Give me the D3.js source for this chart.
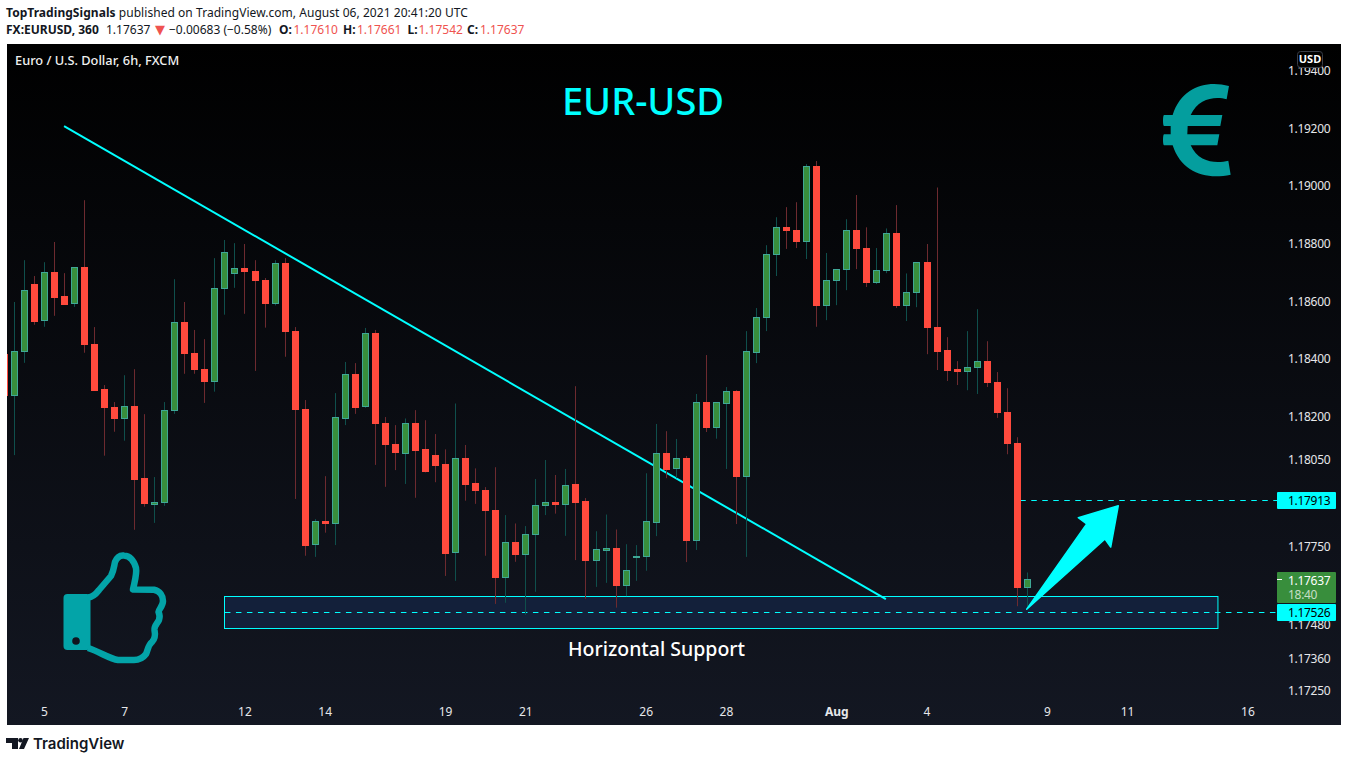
<!DOCTYPE html>
<html><head><meta charset="utf-8">
<script src="https://cdnjs.cloudflare.com/ajax/libs/d3/7.8.5/d3.min.js"></script>
<style>
html,body{margin:0;padding:0;background:#fff;overflow:hidden}
svg{display:block}
text{font-family:"Noto Sans",sans-serif}
</style></head><body>
<svg id="c" width="1348" height="762"></svg>
<script>
const opens=[1.18418,1.18277,1.18426,1.18661,1.18534,1.18702,1.18620,1.18593,1.18719,1.18453,1.18296,1.18234,1.18197,1.18240,1.17987,1.17899,1.17903,1.18223,1.18528,1.18421,1.18365,1.18322,1.18646,1.18697,1.18716,1.18705,1.18674,1.18593,1.18733,1.18497,1.18227,1.17757,1.17839,1.17833,1.18197,1.18349,1.18236,1.18490,1.18178,1.18105,1.18076,1.18181,1.18088,1.18070,1.18036,1.17731,1.18057,1.17970,1.17946,1.17876,1.17643,1.17765,1.17722,1.17792,1.17892,1.17905,1.17901,1.17968,1.17908,1.17702,1.17740,1.17745,1.17615,1.17712,1.17715,1.17837,1.18077,1.18021,1.18057,1.17774,1.18251,1.18163,1.18249,1.18292,1.17996,1.18426,1.18544,1.18763,1.18858,1.18847,1.18808,1.19069,1.18586,1.18673,1.18711,1.18847,1.18785,1.18666,1.18709,1.18837,1.18586,1.18631,1.18736,1.18511,1.18431,1.18366,1.18359,1.18371,1.18393,1.18320,1.18216,1.18109,1.17610];
const closes=[1.18277,1.18428,1.18639,1.18534,1.18702,1.18617,1.18593,1.18719,1.18451,1.18295,1.18232,1.18197,1.18240,1.17986,1.17899,1.17905,1.18223,1.18528,1.18419,1.18364,1.18322,1.18646,1.18771,1.18716,1.18704,1.18673,1.18593,1.18733,1.18496,1.18225,1.17757,1.17838,1.17833,1.18199,1.18348,1.18236,1.18490,1.18177,1.18104,1.18076,1.18181,1.18086,1.18010,1.18034,1.17729,1.18057,1.17968,1.17944,1.17875,1.17643,1.17765,1.17722,1.17793,1.17894,1.17904,1.17899,1.17966,1.17906,1.17702,1.17741,1.17746,1.17615,1.17668,1.17717,1.17838,1.18077,1.18021,1.18057,1.17774,1.18251,1.18163,1.18251,1.18292,1.17996,1.18428,1.18546,1.18764,1.18858,1.18846,1.18808,1.19069,1.18586,1.18674,1.18712,1.18847,1.18783,1.18666,1.18709,1.18837,1.18586,1.18632,1.18736,1.18510,1.18429,1.18363,1.18359,1.18372,1.18393,1.18319,1.18215,1.18107,1.17608,1.17637];
const highs=[1.18484,1.18599,1.18744,1.18689,1.18737,1.18807,1.18699,1.18720,1.18952,1.18512,1.18311,1.18252,1.18345,1.18366,1.18210,1.17992,1.18252,1.18678,1.18599,1.18502,1.18470,1.18751,1.18814,1.18803,1.18800,1.18744,1.18682,1.18744,1.18751,1.18512,1.18259,1.17846,1.17995,1.18283,1.18391,1.18387,1.18509,1.18502,1.18200,1.18172,1.18195,1.18224,1.18189,1.18141,1.18088,1.18247,1.18103,1.18022,1.17957,1.18026,1.17860,1.17831,1.17822,1.17985,1.18051,1.17999,1.18020,1.18307,1.17919,1.17804,1.17862,1.17810,1.17759,1.17756,1.18005,1.18176,1.18151,1.18124,1.18065,1.18280,1.18415,1.18251,1.18304,1.18293,1.18498,1.18578,1.18796,1.18893,1.18928,1.18945,1.19077,1.19088,1.18769,1.18713,1.18886,1.18970,1.18858,1.18786,1.18854,1.18935,1.18698,1.18736,1.18800,1.18996,1.18477,1.18394,1.18498,1.18574,1.18463,1.18356,1.18300,1.18130,1.17661];
const lows=[1.18189,1.18068,1.18388,1.18520,1.18513,1.18551,1.18590,1.18582,1.18423,1.18294,1.18066,1.18149,1.18118,1.17809,1.17889,1.17833,1.17892,1.18211,1.18350,1.18350,1.18249,1.18288,1.18555,1.18648,1.18558,1.18360,1.18510,1.18587,1.18409,1.17916,1.17719,1.17715,1.17799,1.17756,1.18172,1.18211,1.18232,1.18034,1.17958,1.18016,1.17968,1.17920,1.18008,1.17974,1.17649,1.17632,1.17910,1.17899,1.17719,1.17552,1.17556,1.17698,1.17514,1.17594,1.17860,1.17865,1.17788,1.17704,1.17570,1.17611,1.17625,1.17539,1.17579,1.17632,1.17667,1.17787,1.17988,1.17988,1.17697,1.17739,1.18148,1.18125,1.18020,1.17829,1.17715,1.18387,1.18498,1.18689,1.18783,1.18786,1.18748,1.18513,1.18536,1.18588,1.18640,1.18713,1.18651,1.18661,1.18699,1.18578,1.18533,1.18581,1.18418,1.18363,1.18325,1.18311,1.18293,1.18280,1.18304,1.18197,1.18071,1.17544,1.17542];
const priceTicks=[1.194,1.192,1.190,1.188,1.186,1.184,1.182,1.1805,1.1775,1.1748,1.1736,1.1725];
const timeTickIndex=[3,11,23,31,43,51,63,71,82,91,103,111,123];
const timeTickLabels=["5","7","12","14","19","21","26","28","Aug","4","9","11","16"];
const trendIndex=[4.96,86.9];
const trendPrice=[1.19209,1.17569];
const zoneIndex=[20.9,119.95];
const zonePrice=[1.17580,1.17469];
const levelPrices=[1.17913,1.17526];
const levelStartIndex=[100.3,21];
const lastPrice=1.17637;
const countdown="18:40";

const svg=d3.select("#c");
const P={l:7,r:1341,t:44,b:725,axis:1278};
const defs=svg.append("defs");
const g=defs.append("linearGradient").attr("id","bg").attr("x1",0).attr("x2",0).attr("y1",0).attr("y2",1);
g.append("stop").attr("offset",0).attr("stop-color","#000");
g.append("stop").attr("offset",1).attr("stop-color","#131722");
defs.append("clipPath").attr("id","pane").append("rect").attr("x",P.l).attr("y",P.t).attr("width",P.axis-P.l).attr("height",P.b-P.t);

// index -1 is the clipped candle at the left edge
const x=d3.scaleLinear().domain([0,101]).range([14.3,1027.3]);
const y=d3.scaleLinear().domain([1.194,1.1725]).range([71,691]);
const candles=opens.map((o,k)=>({i:k-1,o,c:closes[k],h:highs[k],l:lows[k]}));
const CY="#00ffff";
const TICKFONT='Roboto,sans-serif';

// header
const head=svg.append("g").attr("font-size",12).attr("fill","#131722");
const l1=head.append("text").attr("x",6).attr("y",17).attr("letter-spacing",".05");
l1.append("tspan").attr("font-weight",700).text("TopTradingSignals");
l1.append("tspan").text(" published on TradingView.com, August 06, 2021 20:41:20 UTC");
const l2=head.append("text").attr("y",34);
const seg=(t,px,b,c)=>l2.append("tspan").attr("x",px).attr("font-weight",b?700:400).attr("fill",c||"#131722").text(t);
seg("FX:EURUSD, 360",6,1); seg("1.17637",106);
seg("▼",155,0,"#ef5350").style("font-family","'DejaVu Sans'").attr("font-size",13);
seg("−0.00683 (−0.58%)",169);
seg("O:",279,1); seg("1.17610",293.5,0,"#ef5350"); seg("H:",343,1); seg("1.17661",357,0,"#ef5350");
seg("L:",407.5,1); seg("1.17542",418.5,0,"#ef5350"); seg("C:",467,1); seg("1.17637",480,0,"#ef5350");

// pane
svg.append("rect").attr("x",P.l).attr("y",P.t).attr("width",P.r-P.l).attr("height",P.b-P.t).attr("fill","url(#bg)");

const plot=svg.append("g").attr("clip-path","url(#pane)");
plot.append("rect")
  .attr("x",Math.round(x(zoneIndex[0]))+.5).attr("y",Math.round(y(zonePrice[0]))+.5)
  .attr("width",x(zoneIndex[1])-x(zoneIndex[0])).attr("height",y(zonePrice[1])-y(zonePrice[0]))
  .attr("fill","#13203a").attr("stroke",CY).attr("stroke-width",1);
plot.append("line").attr("x1",x(trendIndex[0])).attr("y1",y(trendPrice[0])).attr("x2",x(trendIndex[1])).attr("y2",y(trendPrice[1]))
  .attr("stroke",CY).attr("stroke-width",2);
levelPrices.forEach((p,k)=>{
  plot.append("line").attr("x1",x(levelStartIndex[k])).attr("x2",P.axis).attr("y1",Math.ceil(y(p))+.5).attr("y2",Math.ceil(y(p))+.5)
    .attr("stroke",CY).attr("stroke-width",1).attr("stroke-dasharray","5.5 5.5");
});

// candles
const cg=plot.append("g").selectAll("g").data(candles).join("g");
const px=d=>Math.floor(x(d.i))+.5;
cg.append("line").attr("x1",px).attr("x2",px).attr("y1",d=>y(d.h)).attr("y2",d=>y(d.l))
  .attr("stroke",d=>d.c>=d.o?"#0f4f4c":"#6d2a2f").attr("stroke-width",1);
cg.append("rect").attr("x",d=>px(d)-3)
  .attr("y",d=>Math.round(y(Math.max(d.o,d.c)))+.5).attr("width",6)
  .attr("height",d=>Math.max(1,Math.round(Math.abs(y(d.o)-y(d.c)))))
  .attr("fill",d=>d.c>=d.o?"#388e3c":"#ff4a3d").attr("stroke",d=>d.c>=d.o?"#3fa796":"#ff4a3d").attr("stroke-width",1);

// price axis
const ya=svg.append("g").attr("transform",`translate(${P.axis},0)`)
  .call(d3.axisRight(y).tickValues(priceTicks).tickFormat(d3.format(".5f")).tickSize(0).tickPadding(10).offset(0));
ya.select(".domain").remove();
ya.selectAll("text").attr("fill","#e6e7ea").attr("font-size",12).attr("font-family",TICKFONT).attr("letter-spacing","-.3");

// time axis
const xa=svg.append("g").attr("transform","translate(0,707)")
  .call(d3.axisBottom(x).tickValues(timeTickIndex).tickFormat((d,k)=>timeTickLabels[k]).tickSize(0).tickPadding(0).offset(0));
xa.select(".domain").remove();
xa.selectAll("text").attr("fill","#e6e7ea").attr("font-size",12).attr("font-family",TICKFONT);
xa.selectAll("text").filter((d,k)=>timeTickLabels[k]==="Aug").attr("font-weight",700);

// price labels
const lab=(t,ly,fill)=>svg.append("text").attr("x",1288).attr("y",ly).attr("font-size",12).attr("font-family",TICKFONT).attr("letter-spacing","-.3").attr("fill",fill).text(t);
svg.append("rect").attr("x",1277).attr("y",572).attr("width",59).attr("height",31).attr("rx",1).attr("fill","#388e3c");
svg.append("line").attr("x1",1277).attr("x2",1282).attr("y1",Math.round(y(lastPrice))+.5).attr("y2",Math.round(y(lastPrice))+.5).attr("stroke","#fff");
lab(d3.format(".5f")(lastPrice),585,"#fff");
lab(countdown,599,"#c6dfc7");
levelPrices.forEach(p=>{
  const c=Math.ceil(y(p));
  svg.append("rect").attr("x",1277).attr("y",c-8).attr("width",59).attr("height",17).attr("rx",1).attr("fill",CY);
  lab(d3.format(".5f")(p),c+4.5,"#000");
});

// annotations
svg.append("path").attr("d","M1026.7 609.3L1086.7 524L1078.3 517.7L1118.3 505.7L1110.7 547L1105 539Z")
  .attr("fill",CY).attr("stroke",CY).attr("stroke-width",1.5).attr("stroke-linejoin","round");
svg.append("text").attr("x",643).attr("y",115).attr("text-anchor","middle").attr("font-size",38).attr("font-weight",500).attr("fill",CY).text("EUR-USD");
svg.append("text").attr("x",656.5).attr("y",656).attr("text-anchor","middle").attr("font-size",19.5).attr("font-weight",500).attr("fill","#fff").text("Horizontal Support");
svg.append("text").attr("x",15).attr("y",65).attr("font-size",12.8).attr("font-weight",500).attr("fill","#f0f0f0").text("Euro / U.S. Dollar, 6h, FXCM");
// USD badge
svg.append("rect").attr("x",1297.5).attr("y",51.5).attr("width",25).attr("height",16).attr("rx",3).attr("fill","#000").attr("stroke","#3a3e48");
svg.append("text").attr("x",1310).attr("y",63).attr("text-anchor","middle").attr("font-size",11).attr("font-weight",700).attr("fill","#fff").text("USD");

// euro icon
svg.append("path").attr("transform","translate(1140,70) scale(.3333)").attr("fill","#049e9e")
 .attr("d","M267 48L260 88C225 78 175 85 152 135L247 135L241 168L143 168L142 193L238 193L232 226L152 226C175 278 230 282 265 272L272 314C200 330 125 310 98 226L72 226C68 226 68 193 72 193L92 193L92 168L72 168C68 168 68 135 72 135L98 135C125 50 200 30 267 48Z");
// thumb icon
const thumb=svg.append("g");
thumb.append("rect").attr("x",63.5).attr("y",594).attr("width",27).attr("height",56).attr("rx",4).attr("fill","#03a4a8");
thumb.append("circle").attr("cx",76).attr("cy",641).attr("r",3.8).attr("fill","#10141e");
thumb.append("path").attr("fill","none").attr("stroke","#03a4a8").attr("stroke-width",6.5).attr("stroke-linejoin","round")
 .attr("d","M88 597.5C93 597 96 594 99 590L111 576C114 570 114 566 115 562C117 557 120 555 124 555.5C130 556 134 561 136 568C137 574 135 580 133 589.5L154 589.7C160 591 163 596 163 601C163 606 159 609 158.5 612C160 615 160 617 159 620C157 624 154 626 154.5 630C155.5 635 155 639 152 642C148 645 148 650 146 654C143 658 139 660 134 660L118 660C110 659 100 652 88 648");

// TradingView footer
const tv=svg.append("g").attr("fill","#131722");
tv.append("path").attr("d","M6 738H18V749H12V743H6ZM24 749L29 738H23.5L19 749Z");
tv.append("circle").attr("cx",20.5).attr("cy",740.3).attr("r",2.3);
svg.append("text").attr("x",33).attr("y",749).attr("font-size",15).attr("font-weight",600).attr("fill","#131722").style("font-family","Inter,sans-serif").text("TradingView");
</script>
</body></html>
